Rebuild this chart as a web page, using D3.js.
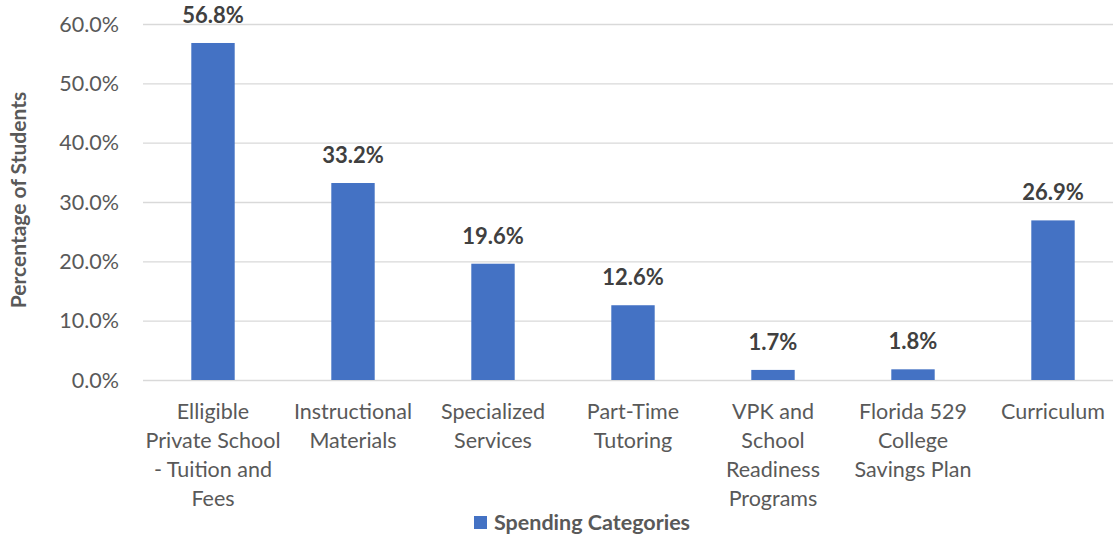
<!DOCTYPE html>
<html>
<head>
<meta charset="utf-8">
<script src="https://cdn.jsdelivr.net/npm/d3@7"></script>
<style>
  html, body { margin: 0; padding: 0; background: #fff; }
  svg { display: block; font-family: Lato, "Open Sans", sans-serif; }
</style>
</head>
<body>
<div id="chart"></div>
<script>
// chart data
const categories = [
    ['Elligible', 'Private School', '- Tuition and', 'Fees'],
    ['Instructional', 'Materials'],
    ['Specialized', 'Services'],
    ['Part-Time', 'Tutoring'],
    ['VPK and', 'School', 'Readiness', 'Programs'],
    ['Florida 529', 'College', 'Savings Plan'],
    ['Curriculum']
];
const values = [56.8, 33.2, 19.6, 12.6, 1.7, 1.8, 26.9];
const yTicks = [0, 10, 20, 30, 40, 50, 60];
const seriesName = 'Spending Categories';
const yTitle = 'Percentage of Students';

const width = 1113, height = 542;
const margin = { left: 143, right: -10, top: 24, bottom: 162 };
const barColor = '#4472c4';

const svg = d3.select('#chart').append('svg')
    .attr('width', width)
    .attr('height', height);

const x = d3.scaleBand()
    .domain(d3.range(values.length))
    .range([margin.left, width - margin.right])
    .paddingInner(0.69)
    .paddingOuter(0.345);

const y = d3.scaleLinear()
    .domain([0, 60])
    .range([height - margin.bottom, margin.top]);

// gridlines
svg.append('g')
    .selectAll('line')
    .data(yTicks)
    .join('line')
    .attr('x1', margin.left)
    .attr('x2', width - margin.right)
    .attr('y1', d => y(d) + 0.5)
    .attr('y2', d => y(d) + 0.5)
    .attr('stroke', '#d9d9d9')
    .attr('stroke-width', 1.3);

// y tick labels
const yAxis = svg.append('g')
    .attr('transform', `translate(${margin.left - 24},0)`)
    .call(d3.axisLeft(y).tickValues(yTicks).tickSize(0).tickFormat(d => d.toFixed(1) + '%'));
yAxis.select('.domain').remove();
yAxis.selectAll('text')
    .attr('x', 0)
    .attr('dy', '0.34em')
    .attr('fill', '#595959')
    .style('font-size', '21.5px')
    .style('font-family', 'Lato, sans-serif');

// bars
svg.append('g')
    .selectAll('rect')
    .data(values)
    .join('rect')
    .attr('x', (d, i) => x(i))
    .attr('width', x.bandwidth())
    .attr('y', d => y(d))
    .attr('height', d => y(0) - y(d))
    .attr('fill', barColor);

// value labels
svg.append('g')
    .selectAll('text')
    .data(values)
    .join('text')
    .attr('x', (d, i) => x(i) + x.bandwidth() / 2)
    .attr('y', d => y(d) - 20)
    .attr('text-anchor', 'middle')
    .attr('fill', '#404040')
    .style('font-size', '22px')
    .style('font-weight', 'bold')
    .text(d => d.toFixed(1) + '%');

// category labels
const catGroups = svg.append('g')
    .selectAll('text')
    .data(categories)
    .join('text')
    .attr('text-anchor', 'middle')
    .attr('fill', '#595959')
    .style('font-size', '21.5px');

catGroups.each(function (lines, i) {
    const cx = x(i) + x.bandwidth() / 2;
    d3.select(this).selectAll('tspan')
        .data(lines)
        .join('tspan')
        .attr('x', cx)
        .attr('y', (d, j) => 419 + j * 29)
        .text(d => d);
});

// y axis title
svg.append('text')
    .attr('transform', `translate(26,${y(30) - 2}) rotate(-90)`)
    .attr('text-anchor', 'middle')
    .attr('fill', '#595959')
    .style('font-size', '21px')
    .style('font-weight', 'bold')
    .text(yTitle);

// legend
const legend = svg.append('g')
    .attr('transform', 'translate(474,516)');
legend.append('rect')
    .attr('width', 13)
    .attr('height', 13)
    .attr('fill', barColor);
legend.append('text')
    .attr('x', 20)
    .attr('y', 14)
    .attr('fill', '#595959')
    .style('font-size', '21.5px')
    .style('font-weight', 'bold')
    .text(seriesName);
</script>
</body>
</html>
